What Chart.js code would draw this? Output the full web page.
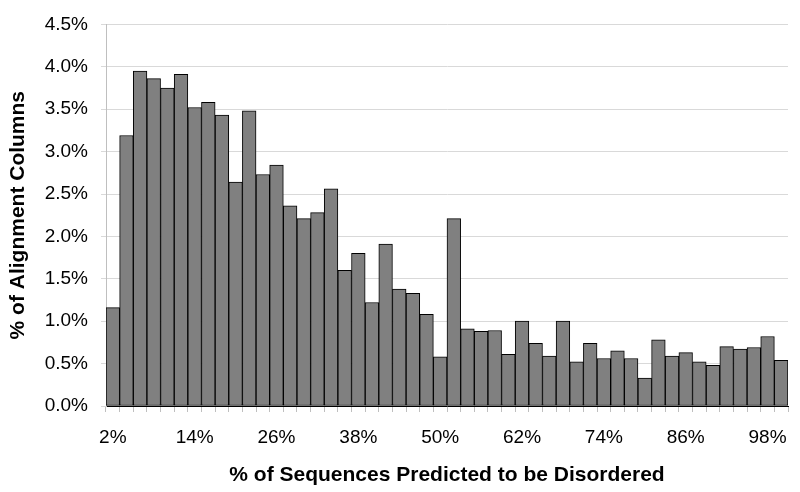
<!DOCTYPE html>
<html>
<head>
<meta charset="utf-8">
<script src="https://cdn.jsdelivr.net/npm/chart.js@4.4.0/dist/chart.umd.min.js"></script>
<style>
  body { margin: 0; background: #fff; }
  #wrap { width: 800px; height: 492px; }
</style>
</head>
<body>
<div id="wrap"><canvas id="disorderChart" width="800" height="492"></canvas></div>
<script>
// bins of % of sequences predicted to be disordered
var categories = ['2%', '4%', '6%', '8%', '10%', '12%', '14%', '16%', '18%', '20%',
    '22%', '24%', '26%', '28%', '30%', '32%', '34%', '36%', '38%', '40%',
    '42%', '44%', '46%', '48%', '50%', '52%', '54%', '56%', '58%', '60%',
    '62%', '64%', '66%', '68%', '70%', '72%', '74%', '76%', '78%', '80%',
    '82%', '84%', '86%', '88%', '90%', '92%', '94%', '96%', '98%', '100%'];

// % of alignment columns in each bin
var values = [1.16, 3.19, 3.95, 3.86, 3.75, 3.91, 3.52, 3.58, 3.43, 2.64,
    3.48, 2.73, 2.84, 2.36, 2.21, 2.28, 2.56, 1.60, 1.80, 1.22,
    1.91, 1.38, 1.33, 1.08, 0.58, 2.21, 0.91, 0.88, 0.89, 0.61,
    1.00, 0.74, 0.59, 1.00, 0.52, 0.74, 0.56, 0.65, 0.56, 0.33,
    0.78, 0.59, 0.63, 0.52, 0.48, 0.70, 0.67, 0.69, 0.82, 0.54];

// only every sixth bin gets a label on the x axis
var shownTicks = ['2%', '14%', '26%', '38%', '50%', '62%', '74%', '86%', '98%'];

var fontFamily = '"Liberation Sans", Arial, sans-serif';

var ctx = document.getElementById('disorderChart').getContext('2d');
new Chart(ctx, {
    type: 'bar',
    data: {
        labels: categories,
        datasets: [{
            data: values,
            backgroundColor: '#808080',
            borderColor: '#000000',
            borderWidth: 1,
            borderSkipped: false,
            barPercentage: 1.0,
            categoryPercentage: 1.0
        }]
    },
    options: {
        responsive: false,
        animation: false,
        layout: { padding: { top: 20, right: 12, left: 0, bottom: 0 } },
        plugins: {
            legend: { display: false },
            tooltip: { enabled: false }
        },
        scales: {
            x: {
                afterFit: function (scale) { scale.height = 86; },
                grid: {
                    drawOnChartArea: false,
                    drawTicks: true,
                    tickLength: 6,
                    color: '#bfbfbf'
                },
                border: { color: '#000000' },
                ticks: {
                    autoSkip: false,
                    maxRotation: 0,
                    padding: 14,
                    color: '#000',
                    font: { family: fontFamily, size: 19 },
                    callback: function (val, i) {
                        var lab = categories[i];
                        return shownTicks.indexOf(lab) >= 0 ? lab : '';
                    }
                },
                title: {
                    display: true,
                    text: '% of Sequences Predicted to be Disordered',
                    color: '#000',
                    font: { family: fontFamily, size: 21, weight: 'bold' },
                    padding: { top: 0, bottom: 4 }
                }
            },
            y: {
                min: 0,
                max: 4.5,
                afterFit: function (scale) { scale.width = 106; },
                grid: {
                    color: '#d9d9d9',
                    tickLength: 5
                },
                border: { color: '#bfbfbf' },
                ticks: {
                    stepSize: 0.5,
                    padding: 13,
                    color: '#000',
                    font: { family: fontFamily, size: 19 },
                    callback: function (v) { return v.toFixed(1) + '%'; }
                },
                title: {
                    display: true,
                    text: '% of Alignment Columns',
                    color: '#000',
                    font: { family: fontFamily, size: 21, weight: 'bold' },
                    padding: { top: 6, bottom: 0 }
                }
            }
        }
    }
});
</script>
</body>
</html>
